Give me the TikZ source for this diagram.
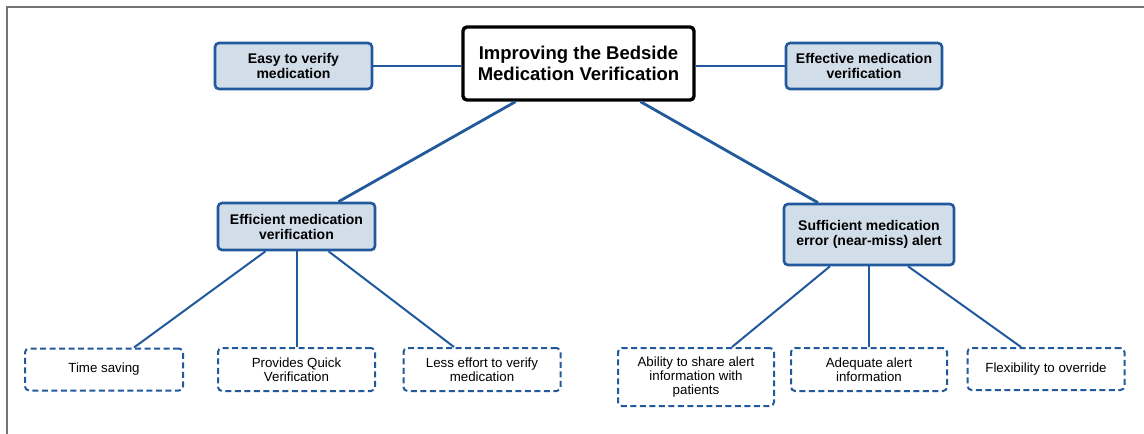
\documentclass[tikz,border=0pt]{standalone}
\usepackage{fontspec}
\setmainfont{Liberation Sans}
\begin{document}
\begin{tikzpicture}[x=1pt,y=-1pt,
  rootbox/.style={draw=black, line width=3.4pt, rounded corners=4pt, fill=white,
    align=center, inner sep=0pt, font=\bfseries\fontsize{18.5}{20.5}\selectfont},
  goalbox/.style={draw=linkblue, line width=2.6pt, rounded corners=4pt, fill=boxfill,
    align=center, inner sep=0pt, font=\bfseries\fontsize{14}{15}\selectfont},
  leafbox/.style={draw=linkblue, line width=2pt, rounded corners=4pt,
    dash pattern=on 6pt off 3.5pt, fill=white,
    align=center, inner sep=0pt, font=\fontsize{13.3}{14.3}\selectfont},
  mainlink/.style={draw=linkblue, line width=2.8pt},
  leaflink/.style={draw=linkblue, line width=2pt}]
\definecolor{linkblue}{HTML}{22599C}
\definecolor{boxfill}{HTML}{D2DDEA}
\useasboundingbox (0,0) rectangle (1144,434);
% frame
\draw[color=black!55, line width=2pt] (6.5,434) -- (6.5,6.5) -- (1144,6.5);

% top row
\node[rootbox, minimum width=231pt, minimum height=73pt] (root) at (578.5,63.5)
  {Improving the Bedside\\Medication Verification};
\node[goalbox, minimum width=157pt, minimum height=46pt] (easy) at (293.5,66)
  {Easy to verify\\medication};
\node[goalbox, minimum width=156pt, minimum height=46pt] (effective) at (864,66)
  {Effective medication\\verification};

% middle row
\node[goalbox, minimum width=157pt, minimum height=47pt] (efficient) at (296.5,226.5)
  {Efficient medication\\verification};
\node[goalbox, minimum width=170pt, minimum height=61pt] (sufficient) at (869,234.5)
  {Sufficient medication\\error (near-miss) alert};

% leaves
\node[leafbox, minimum width=158pt, minimum height=42pt] (time) at (104,369.5)
  {Time saving};
\node[leafbox, minimum width=157pt, minimum height=43pt] (quick) at (296.5,369.5)
  {Provides Quick\\Verification};
\node[leafbox, minimum width=157pt, minimum height=43pt] (effort) at (482,369.5)
  {Less effort to verify\\medication};
\node[leafbox, minimum width=156pt, minimum height=58pt] (share) at (696,377)
  {Ability to share alert\\information with\\patients};
\node[leafbox, minimum width=156pt, minimum height=43pt] (adequate) at (869,369.5)
  {Adequate alert\\information};
\node[leafbox, minimum width=157pt, minimum height=42pt] (flex) at (1046,369)
  {Flexibility to override};

% connectors
\draw[mainlink] (easy.east) -- (root.west |- easy.east);
\draw[mainlink] (effective.west) -- (root.east |- effective.west);
\draw[mainlink] ([xshift=-63pt]root.south) -- ([xshift=42pt]efficient.north);
\draw[mainlink] ([xshift=62pt]root.south) -- ([xshift=-51pt]sufficient.north);
\draw[leaflink] ([xshift=-31pt]efficient.south) -- ([xshift=30pt]time.north);
\draw[leaflink] (efficient.south) -- (quick.north);
\draw[leaflink] ([xshift=32pt]efficient.south) -- ([xshift=-28pt]effort.north);
\draw[leaflink] ([xshift=-39pt]sufficient.south) -- ([xshift=36pt]share.north);
\draw[leaflink] (sufficient.south) -- (adequate.north);
\draw[leaflink] ([xshift=39pt]sufficient.south) -- ([xshift=-25pt]flex.north);
\end{tikzpicture}
\end{document}
